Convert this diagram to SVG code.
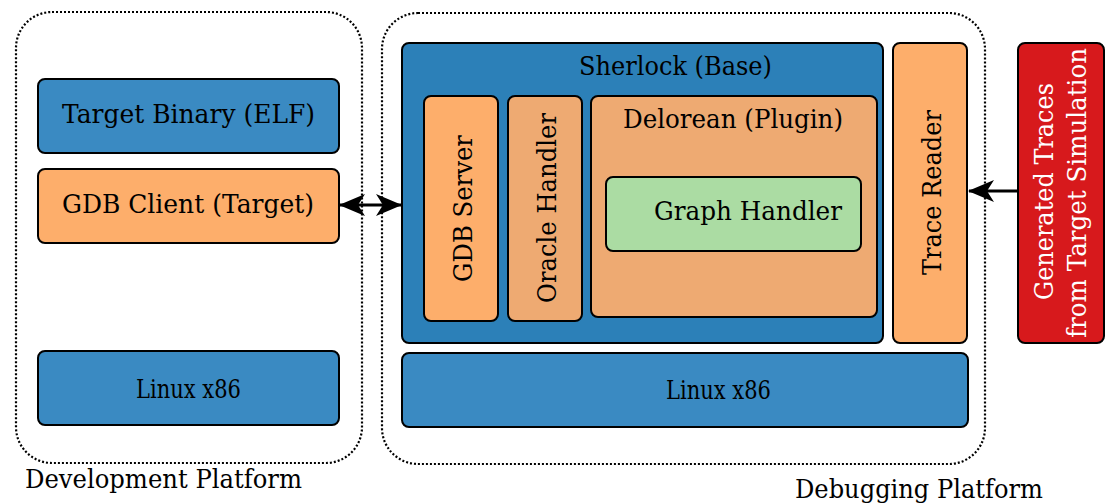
<svg xmlns="http://www.w3.org/2000/svg" width="1106" height="503" viewBox="0 0 1106 503">
<style>
text{font-family:"DejaVu Serif","Liberation Serif",serif;font-size:26px;fill:#000;text-anchor:middle}
.box{stroke:#000;stroke-width:2}
.blue{fill:#3a8ac2}
.dblue{fill:#2c80b8}
.orange{fill:#fdae6b}
.tan{fill:#eeaa72}
.green{fill:#abdca3}
.red{fill:#d7191c}
.plat{fill:none;stroke:#000;stroke-width:2.2;stroke-dasharray:2 2}
.wt{fill:#fff}
.conn{stroke:#000;stroke-width:3.2;fill:none}
</style>
<defs>
<marker id="stealth" viewBox="0 0 26 22" refX="25" refY="11" markerWidth="26" markerHeight="22" markerUnits="userSpaceOnUse" orient="auto-start-reverse">
<path d="M26,11 L0,0 L7,11 L0,22 Z" fill="#000"/>
</marker>
</defs>
<rect width="1106" height="503" fill="#fff"/>

<g id="development-platform">
<rect class="plat" x="16" y="12" width="346" height="451" rx="36"/>
<text x="163.5" y="488" textLength="277" lengthAdjust="spacingAndGlyphs">Development Platform</text>
</g>
<g id="debugging-platform">
<rect class="plat" x="382" y="13" width="603" height="451" rx="36"/>
<text x="919" y="498" textLength="248" lengthAdjust="spacingAndGlyphs">Debugging Platform</text>
</g>

<g id="target-binary">
<rect class="box blue" x="38" y="79" width="301" height="74" rx="7"/>
<text x="188.5" y="123" textLength="253" lengthAdjust="spacingAndGlyphs">Target Binary (ELF)</text>
</g>
<g id="gdb-client">
<rect class="box orange" x="38" y="169" width="301" height="74" rx="7"/>
<text x="188" y="213" textLength="252" lengthAdjust="spacingAndGlyphs">GDB Client (Target)</text>
</g>
<g id="linux-left">
<rect class="box blue" x="38" y="351" width="301" height="74" rx="7"/>
<text x="188.5" y="398" textLength="105" lengthAdjust="spacingAndGlyphs">Linux x86</text>
</g>

<g id="sherlock">
<rect class="box dblue" x="402" y="43" width="481" height="300" rx="7"/>
<text x="675.5" y="75" textLength="193" lengthAdjust="spacingAndGlyphs">Sherlock (Base)</text>
</g>
<g id="gdb-server">
<rect class="box orange" x="424" y="96" width="74" height="225" rx="7"/>
<text transform="translate(472,208.5) rotate(-90)" textLength="147" lengthAdjust="spacingAndGlyphs">GDB Server</text>
</g>
<g id="oracle-handler">
<rect class="box tan" x="508" y="96" width="74" height="225" rx="7"/>
<text transform="translate(556,208) rotate(-90)" textLength="190" lengthAdjust="spacingAndGlyphs">Oracle Handler</text>
</g>
<g id="delorean">
<rect class="box tan" x="591" y="96" width="286" height="221" rx="7"/>
<text x="733" y="128" textLength="220" lengthAdjust="spacingAndGlyphs">Delorean (Plugin)</text>
</g>
<g id="graph-handler">
<rect class="box green" x="606" y="177" width="255" height="74" rx="7"/>
<text x="748" y="220" textLength="188" lengthAdjust="spacingAndGlyphs">Graph Handler</text>
</g>
<g id="trace-reader">
<rect class="box orange" x="893" y="43" width="74" height="300" rx="7"/>
<text transform="translate(941,192.5) rotate(-90)" textLength="165" lengthAdjust="spacingAndGlyphs">Trace Reader</text>
</g>
<g id="linux-right">
<rect class="box blue" x="402" y="353" width="566" height="74" rx="7"/>
<text x="718.5" y="399" textLength="105" lengthAdjust="spacingAndGlyphs">Linux x86</text>
</g>
<g id="generated-traces">
<rect class="box red" x="1018" y="43" width="86" height="300" rx="7"/>
<text class="wt" transform="translate(1053,191.5) rotate(-90)" textLength="217" lengthAdjust="spacingAndGlyphs">Generated Traces</text>
<text class="wt" transform="translate(1086,193) rotate(-90)" textLength="290" lengthAdjust="spacingAndGlyphs">from Target Simulation</text>
</g>

<g id="connectors">
<line class="conn" x1="340" y1="205" x2="401" y2="205" marker-start="url(#stealth)" marker-end="url(#stealth)"/>
<line class="conn" x1="1017" y1="191" x2="969" y2="191" marker-end="url(#stealth)"/>
</g>
</svg>
